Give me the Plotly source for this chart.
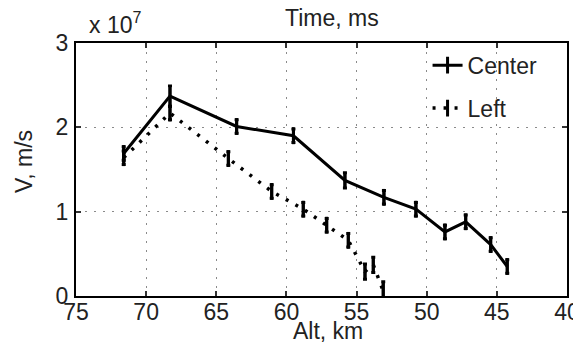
import plotly.graph_objects as go

SCALE = 1e7  # velocities are read in units of 1e7 m/s

center_alt = [71.6, 68.3, 63.55, 59.5, 55.83, 53.05, 50.77, 48.7, 47.22, 45.44, 44.26]
center_v = [1.69, 2.37, 2.01, 1.90, 1.37, 1.17, 1.03, 0.76, 0.88, 0.61, 0.35]
center_err = [0.08, 0.12, 0.08, 0.08, 0.09, 0.08, 0.08, 0.08, 0.08, 0.08, 0.08]

left_alt = [71.6, 68.3, 64.14, 61.05, 58.8, 57.13, 55.59, 54.4, 53.81, 53.1]
left_v = [1.64, 2.17, 1.63, 1.24, 1.03, 0.84, 0.66, 0.29, 0.37, 0.06]
left_err = [0.08, 0.08, 0.08, 0.08, 0.08, 0.08, 0.08, 0.09, 0.09, 0.11]

x_ticks = [75, 70, 65, 60, 55, 50, 45, 40]
y_ticks = [0, 1, 2, 3]

FONT = "Liberation Sans, Arial, Helvetica, sans-serif"
TXT = "#222222"
FS = 23

fig = go.Figure()
fig.add_trace(go.Scatter(
    x=center_alt, y=[v * SCALE for v in center_v], name="Center",
    mode="lines+markers", legendgroup="c",
    line=dict(color="black", width=3),
    marker=dict(symbol="line-ns-open", size=12, color="black", line=dict(color="black", width=3)),
    error_y=dict(type="data", array=[e * SCALE for e in center_err], color="black", thickness=3, width=2),
))
fig.add_trace(go.Scatter(
    x=left_alt, y=[v * SCALE for v in left_v], name="Left",
    mode="lines+markers", legendgroup="l",
    line=dict(color="black", width=3.5, dash="3px,8px"),
    marker=dict(symbol="line-ns-open", size=12, color="black", line=dict(color="black", width=3)),
    error_y=dict(type="data", array=[e * SCALE for e in left_err], color="black", thickness=3, width=2),
))

# page body has an 8px default margin, so the figure is drawn offset by (8, 8)
fig.update_layout(
    width=573, height=337,
    margin=dict(l=68, r=14, t=35, b=49, autoexpand=False),
    paper_bgcolor="white", plot_bgcolor="white",
    font=dict(family=FONT, size=FS, color=TXT),
    showlegend=True,
    legend=dict(x=0.716, y=0.997, xanchor="left", yanchor="top",
                bgcolor="rgba(0,0,0,0)", borderwidth=0,
                traceorder="grouped", tracegroupgap=10,
                font=dict(family=FONT, size=FS, color=TXT)),
    xaxis=dict(range=[75, 40], tickvals=x_ticks, ticktext=[str(t) for t in x_ticks],
               showline=True, linecolor="black", linewidth=2, mirror="allticks",
               ticks="inside", ticklen=5, tickwidth=1.5, tickcolor="#333",
               showgrid=True, gridcolor="#8a8a8a", gridwidth=1.2, griddash="1.5px,7.5px",
               zeroline=False, ticklabelstandoff=-6,
               tickfont=dict(family=FONT, size=FS, color=TXT)),
    yaxis=dict(range=[0, 3 * SCALE], tickvals=[t * SCALE for t in y_ticks],
               ticktext=[str(t) for t in y_ticks],
               showline=True, linecolor="black", linewidth=2, mirror="allticks",
               ticks="inside", ticklen=5, tickwidth=1.5, tickcolor="#333",
               showgrid=True, gridcolor="#8a8a8a", gridwidth=1.2, griddash="1.5px,7.5px",
               zeroline=False, ticklabelstandoff=1,
               tickfont=dict(family=FONT, size=FS, color=TXT)),
    annotations=[
        dict(text="Time, ms", xref="paper", yref="paper", x=(331.5 - 76) / 491, y=(296 - 18) / 253,
             xanchor="center", yanchor="middle", showarrow=False, font=dict(size=FS)),
        dict(text="x 10<sup>7</sup>", xref="paper", yref="paper", x=(87 - 76) / 491, y=(296 - 40) / 253,
             xanchor="left", yanchor="bottom", showarrow=False, font=dict(size=FS)),
        dict(text="Alt, km", xref="paper", yref="paper", x=(327.5 - 76) / 491, y=(296 - 331) / 253,
             xanchor="center", yanchor="middle", showarrow=False, font=dict(size=FS)),
        dict(text="V, m/s", xref="paper", yref="paper", x=(24 - 76) / 491, y=(296 - 162) / 253,
             xanchor="center", yanchor="middle", textangle=-90, showarrow=False, font=dict(size=FS)),
    ],
)

fig.write_html("out.html")
